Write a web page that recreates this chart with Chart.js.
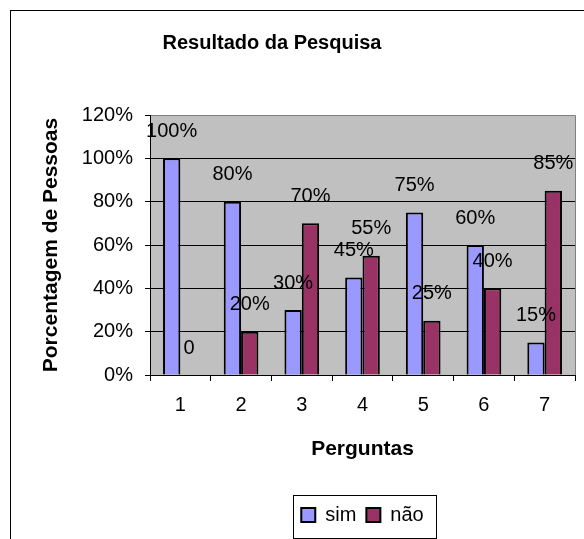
<!DOCTYPE html>
<html>
<head>
<meta charset="utf-8">
<script src="https://cdn.jsdelivr.net/npm/chart.js@4/dist/chart.umd.min.js"></script>
<style>
  html, body { margin: 0; padding: 0; background: #fff; overflow: hidden; }
  #wrap { position: relative; width: 584px; height: 539px; }
  #frame { position: absolute; left: 10px; top: 10px; width: 700px; height: 700px;
           border-left: 1px solid #000; border-top: 1px solid #000; pointer-events: none; }
  canvas { position: absolute; left: 0; top: 0; }
</style>
</head>
<body>
<div id="wrap">
  <canvas id="c" width="584" height="539"></canvas>
  <div id="frame"></div>
</div>
<script>
// ---- data ----
const categories = ['1', '2', '3', '4', '5', '6', '7'];
const simValues = [100, 80, 30, 45, 75, 60, 15];
const naoValues = [0, 20, 70, 55, 25, 40, 85];
const yTicks = [0, 20, 40, 60, 80, 100, 120];
const seriesNames = ['sim', 'não'];
const chartTitle = 'Resultado da Pesquisa';
const xTitle = 'Perguntas';
const yTitle = 'Porcentagem de Pessoas';

const FONT = 'Arial, "Liberation Sans", sans-serif';
Chart.defaults.font.family = FONT;
Chart.defaults.color = '#000';

const fmtLabel = v => (v === 0 ? '0' : v + '%');

const framePlugin = {
  id: 'framePlugin',
  afterLayout(chart) {
    // Excel centers the title over a slightly narrower frame
    chart.titleBlock.left = 0;
    chart.titleBlock.right = 544;
  },
  beforeDraw(chart) {
    const {ctx, chartArea: a} = chart;
    ctx.save();
    ctx.fillStyle = '#C0C0C0';
    ctx.fillRect(a.left, a.top, a.right - a.left, a.bottom - a.top);
    ctx.strokeStyle = '#808080';
    ctx.lineWidth = 1;
    ctx.beginPath();
    ctx.moveTo(a.left, a.top + 0.5);
    ctx.lineTo(a.right + 0.5, a.top + 0.5);
    ctx.lineTo(a.right + 0.5, a.bottom);
    ctx.stroke();
    ctx.restore();
  },
  afterDatasetsDraw(chart) {
    const ctx = chart.ctx;
    ctx.save();
    ctx.font = '20px ' + FONT;
    ctx.fillStyle = '#000';
    ctx.textAlign = 'center';
    ctx.textBaseline = 'middle';
    chart.data.datasets.forEach((ds, i) => {
      chart.getDatasetMeta(i).data.forEach((bar, j) => {
        ctx.fillText(fmtLabel(ds.data[j]), bar.x, bar.y - 27);
      });
    });
    ctx.restore();
  },
  afterDraw(chart) {
    const lg = chart.legend;
    if (!lg || !lg.legendHitBoxes || !lg.legendHitBoxes.length) return;
    const hb = lg.legendHitBoxes;
    let minX = Infinity, maxX = -Infinity, minY = Infinity, maxY = -Infinity;
    hb.forEach(b => {
      minX = Math.min(minX, b.left); maxX = Math.max(maxX, b.left + b.width);
      minY = Math.min(minY, b.top); maxY = Math.max(maxY, b.top + b.height);
    });
    const ctx = chart.ctx;
    ctx.save();
    ctx.strokeStyle = '#000';
    ctx.lineWidth = 1;
    const x0 = Math.round(minX - 8) + 0.5, x1 = Math.round(maxX + 12) + 0.5;
    const y0 = Math.round(minY - 10) + 0.5, y1 = Math.round(maxY + 13) + 0.5;
    ctx.strokeRect(x0, y0, x1 - x0, y1 - y0);
    ctx.restore();
  }
};

new Chart(document.getElementById('c'), {
  type: 'bar',
  data: {
    labels: categories,
    datasets: [
      { label: seriesNames[0], data: simValues, backgroundColor: '#9999FF', borderColor: '#000', borderWidth: 2 },
      { label: seriesNames[1], data: naoValues, backgroundColor: '#993366', borderColor: '#000', borderWidth: 2 }
    ]
  },
  options: {
    responsive: false,
    animation: false,
    devicePixelRatio: 1,
    layout: { padding: { top: 0, left: 0, right: 9, bottom: 4 } },
    datasets: { bar: { categoryPercentage: 0.571, barPercentage: 1.0 } },
    plugins: {
      title: {
        display: true,
        text: chartTitle,
        font: { size: 20, weight: 'bold' },
        color: '#000',
        padding: { top: 31, bottom: 60 }
      },
      legend: {
        display: true,
        position: 'bottom',
        fullSize: false,
        labels: { font: { size: 20 }, boxWidth: 14, boxHeight: 14, padding: 10, color: '#000' }
      },
      tooltip: { enabled: false }
    },
    scales: {
      x: {
        grid: { drawOnChartArea: false, offset: true, tickLength: 6, tickColor: '#000', tickWidth: 1 },
        border: { color: '#000', width: 1 },
        ticks: { font: { size: 20 }, padding: 12, color: '#000', maxRotation: 0 },
        title: { display: true, text: xTitle, font: { size: 21, weight: 'bold' }, color: '#000', padding: { top: 0, bottom: 33 } },
        afterFit(scale) { scale.height = 120; }
      },
      y: {
        min: 0,
        max: 120,
        afterBuildTicks(scale) { scale.ticks = yTicks.map(v => ({ value: v })); },
        grid: {
          color: ctx => (ctx.tick && ctx.tick.value === 120 ? '#808080' : '#000'),
          tickColor: '#000',
          tickLength: 5,
          lineWidth: 1
        },
        border: { color: '#000', width: 1 },
        ticks: { font: { size: 20 }, padding: 12, color: '#000', callback: v => v + '%' },
        title: { display: true, text: yTitle, font: { size: 21, weight: 'bold' }, color: '#000', padding: { top: 39, bottom: 0 } },
        afterFit(scale) { scale.width = 150; }
      }
    }
  },
  plugins: [framePlugin]
});
</script>
</body>
</html>
